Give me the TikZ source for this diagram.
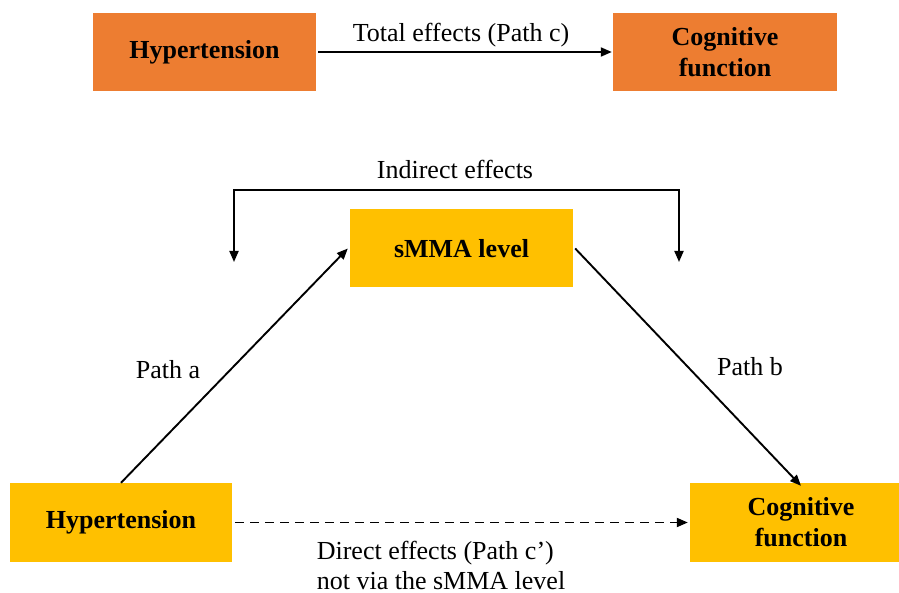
\documentclass[tikz,border=0pt]{standalone}
\usepackage{fontspec}
\setmainfont{Liberation Serif}
\usetikzlibrary{arrows.meta}
\definecolor{boxorange}{HTML}{ED7D31}
\definecolor{boxyellow}{HTML}{FFC000}
\tikzset{
  box/.style={minimum width=223pt, minimum height=78pt, inner sep=0pt, align=center,
    font=\fontsize{26}{31}\selectfont\bfseries},
  obox/.style={box, fill=boxorange},
  ybox/.style={box, fill=boxyellow},
  lbl/.style={font=\fontsize{26}{30}\selectfont, inner sep=0pt},
  conn/.style={line width=1.9pt, -{Triangle[length=11pt,width=9pt]}},
}
\begin{document}
\begin{tikzpicture}[x=1pt,y=-1pt]
\useasboundingbox (0,0) rectangle (899,593);
\clip (0,0) rectangle (899,593);
\node[obox] (topH) at (204.5,52) {Hypertension};
\node[obox, minimum width=224pt] (topC) at (725,52) {Cognitive\\function};
\node[ybox] (mid) at (461.5,248.5) {sMMA level};
\node[ybox, minimum width=222pt, minimum height=79pt] (botH) at (121,522.5) {Hypertension};
\node[ybox, minimum width=222pt, minimum height=79pt] (botC) at (801,522.5) {Cognitive\\function};

\draw[conn] ([xshift=2pt]topH.east) -- ([xshift=-1pt]topC.west);
\node[lbl] (ltot) at (461,35) {Total effects (Path c)};

\coordinate (bl) at (234,262);
\coordinate (br) at (679,262);
\draw[conn, {Triangle[length=11pt,width=9pt]}-{Triangle[length=11pt,width=9pt]}] (bl) -- (234,190) -- (679,190) -- (br);
\node[lbl] (lind) at (455,169) {Indirect effects};

\draw[conn] (botH.north) -- ([xshift=-2pt]mid.west);
\node[lbl] (la) at (168,370) {Path a};
\draw[conn] ([xshift=2pt]mid.east) -- ([yshift=-3pt]botC.north);
\node[lbl] (lb) at (750,367) {Path b};

\draw[conn, dashed, dash pattern=on 9pt off 6pt] ([xshift=3pt]botH.east) -- ([xshift=-2pt]botC.west);
\node[lbl, align=left] (ldir) at (441,565) {Direct effects (Path c’)\\not via the sMMA level};
\end{tikzpicture}
\end{document}
